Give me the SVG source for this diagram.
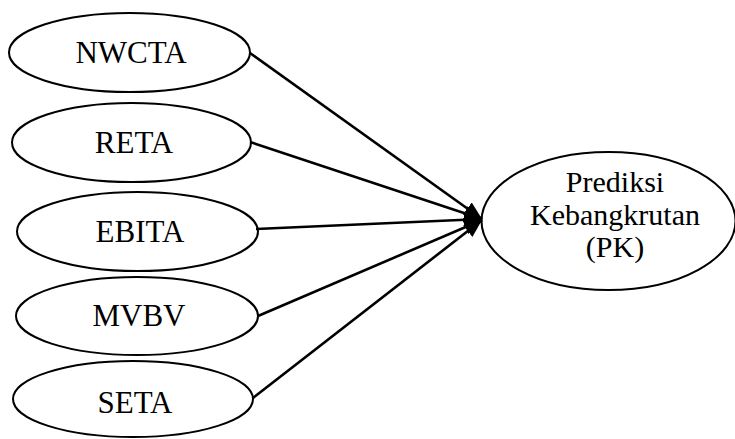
<svg xmlns="http://www.w3.org/2000/svg" width="735" height="439" viewBox="0 0 735 439">
<style>
.node ellipse{fill:#fff;stroke:#000;stroke-width:2}
.node text{font-family:"Liberation Serif","Times New Roman",serif;font-size:31px;fill:#000;text-anchor:middle}
#pk text{font-size:30px}
.conn line{stroke:#000;stroke-width:2.6}
</style>
<defs>
<marker id="ah" markerUnits="userSpaceOnUse" markerWidth="19" markerHeight="15" refX="18" refY="7.5" orient="auto">
<path d="M0,0 L18,7.5 L0,15 Z" fill="#000"/>
</marker>
</defs>
<g id="n-nwcta" class="node"><ellipse cx="129.5" cy="52.5" rx="120.5" ry="39.5"/><text x="131" y="63">NWCTA</text></g>
<g id="n-reta" class="node"><ellipse cx="131.5" cy="142.5" rx="119.5" ry="39.5"/><text x="134" y="153">RETA</text></g>
<g id="n-ebita" class="node"><ellipse cx="137.5" cy="231.5" rx="120.5" ry="39.5"/><text x="140" y="242">EBITA</text></g>
<g id="n-mvbv" class="node"><ellipse cx="137" cy="316" rx="121" ry="39"/><text x="139" y="326">MVBV</text></g>
<g id="n-seta" class="node"><ellipse cx="133" cy="399" rx="120" ry="38"/><text x="135" y="413">SETA</text></g>
<g id="pk" class="node"><ellipse cx="608.5" cy="221" rx="127" ry="69"/><text x="615" y="192">Prediksi</text><text x="615" y="225">Kebangkrutan</text><text x="615" y="257">(PK)</text></g>
<g id="connectors" class="conn">
<line x1="250" y1="53" x2="482" y2="219" marker-end="url(#ah)"/>
<line x1="250" y1="142" x2="482" y2="219" marker-end="url(#ah)"/>
<line x1="256" y1="229" x2="482" y2="219" marker-end="url(#ah)"/>
<line x1="258" y1="316" x2="482" y2="220" marker-end="url(#ah)"/>
<line x1="253" y1="398" x2="482" y2="220" marker-end="url(#ah)"/>
</g>
</svg>
